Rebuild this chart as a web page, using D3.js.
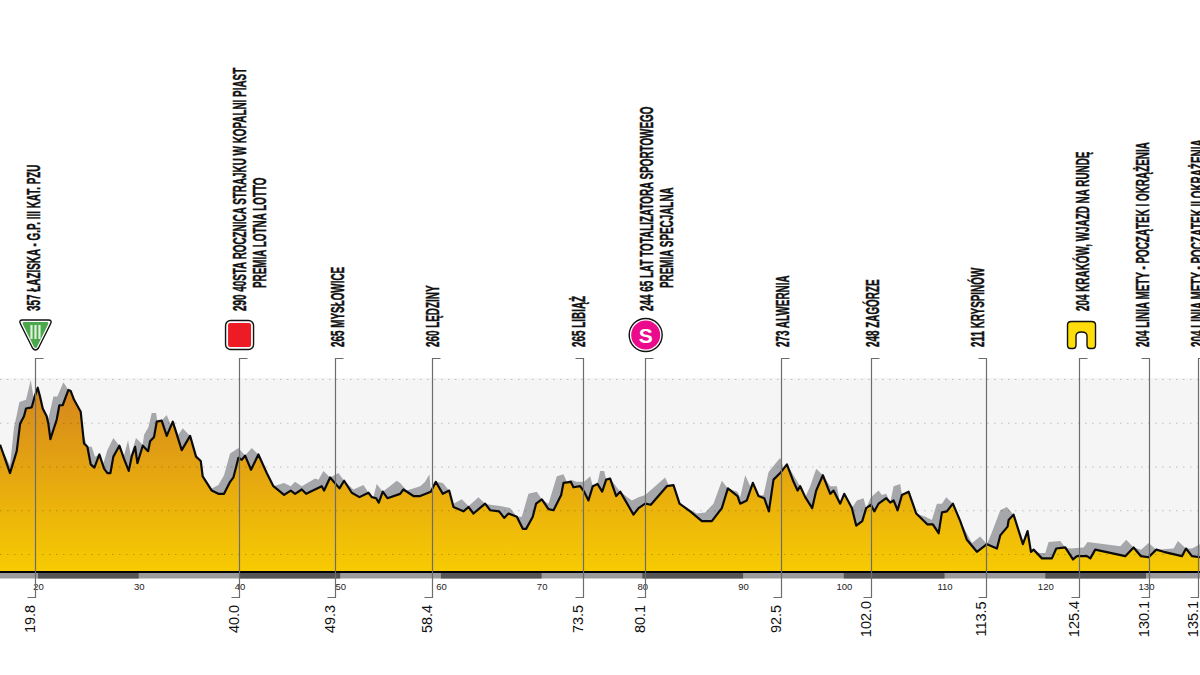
<!DOCTYPE html>
<html>
<head>
<meta charset="utf-8">
<script src="https://cdn.jsdelivr.net/npm/d3@7"></script>
<style>
  html, body { margin: 0; padding: 0; background: #fff; }
  svg { display: block; }
  text { font-family: "Liberation Sans Narrow", "Liberation Sans", sans-serif; }
  .name { stroke: #111; stroke-width: 0.45; }
</style>
</head>
<body>
<svg id="chart" width="1200" height="675"></svg>
<script>
// road profile, km along the axis and elevation in metres
const profileKm = [16.23,16.73,17.22,17.89,18.22,18.61,18.81,19.37,19.71,19.97,20.20,20.47,20.86,21.03,21.23,21.86,22.12,22.45,23.02,23.25,23.58,24.24,24.57,24.90,25.23,25.60,26.09,26.56,26.89,27.19,27.48,28.08,28.54,29.01,29.30,29.64,29.87,30.40,30.93,31.13,31.52,31.79,32.28,32.78,33.38,34.27,35.10,35.69,36.16,36.35,37.25,37.91,38.47,39.07,39.40,39.90,40.23,40.56,41.15,41.88,42.71,43.37,44.43,45.09,45.52,46.19,46.62,48.17,48.40,49.00,49.93,50.39,51.15,51.91,52.81,53.14,53.57,53.83,54.23,54.69,55.95,
  56.28,57.27,57.94,59.00,59.49,60.19,60.82,61.25,62.24,62.74,63.23,64.39,64.89,65.78,66.28,66.71,67.54,68.13,68.46,69.12,69.45,70.02,70.68,71.18,71.94,72.17,72.90,73.16,73.82,74.22,74.65,75.08,75.55,76.01,76.41,76.80,77.40,77.80,79.12,79.62,80.28,80.84,82.43,83.09,83.69,84.75,85.91,86.90,87.89,88.49,89.45,89.71,90.37,90.97,91.53,92.10,92.56,93.02,93.68,94.35,95.01,95.41,95.67,
  96.17,96.86,97.26,97.92,98.65,98.98,99.64,100.04,100.80,101.23,101.83,102.22,102.69,103.02,103.45,104.21,104.61,104.94,105.34,105.77,106.43,107.19,108.31,108.84,109.41,109.74,110.23,110.83,111.56,112.22,113.21,114.21,115.20,115.53,116.26,116.36,116.85,117.78,118.24,118.58,118.84,119.67,120.66,121.09,121.98,122.75,123.14,124.14,124.47,124.96,127.94,128.77,129.50,130.26,131.02,131.75,133.57,133.97,134.56,135.39,136.00];
const profileElev = [300,287,274,294,319,326,333,334,345,352,344,333,326,319,305,323,336,336,350,349,341,330,301,298,282,279,291,278,274,274,289,299,287,276,289,298,283,299,294,303,307,321,322,308,321,295,308,289,285,271,258,255,255,266,270,288,286,290,277,291,274,262,254,258,255,259,255,262,258,270,260,267,256,252,256,252,251,247,257,251,255,
  259,253,253,257,266,255,258,243,239,243,237,246,240,239,233,237,234,223,223,234,246,250,241,240,254,265,266,261,262,257,249,262,264,257,268,269,253,257,236,242,246,245,262,263,246,239,230,230,242,260,253,246,249,265,253,251,239,268,274,282,266,258,262,
  252,242,258,272,255,258,246,255,242,226,230,242,245,239,246,251,247,249,240,254,257,237,227,227,219,238,239,246,230,213,202,209,205,217,225,231,236,209,221,202,204,196,196,205,206,195,198,198,196,204,198,206,198,197,204,202,198,205,198,197,197];

// grey relief behind the road profile
const reliefKm = [16.23,17.22,17.62,17.89,18.15,18.81,19.28,19.54,19.97,20.47,21.03,21.53,21.92,22.52,23.02,24.90,25.33,25.66,26.09,26.49,26.89,27.48,28.08,28.54,28.94,29.21,29.73,30.40,30.53,30.96,31.29,31.72,31.85,32.28,32.78,33.18,33.38,33.94,34.37,35.10,36.35,37.25,37.91,38.47,39.07,39.90,40.56,41.22,41.88,43.37,44.43,45.09,45.52,46.19,47.51,47.84,48.34,49.00,49.83,50.39,51.32,52.31,52.81,53.30,53.63,54.23,55.62,55.95,
  56.61,57.94,58.43,58.86,59.00,59.49,60.19,60.82,61.25,62.07,62.74,63.73,64.39,64.89,65.88,66.87,67.54,68.03,68.69,69.52,70.02,70.68,71.51,72.17,72.50,72.90,73.49,74.22,74.82,75.08,75.55,75.81,76.21,76.41,76.80,77.80,78.95,79.62,80.28,82.26,82.60,83.09,83.69,85.41,86.24,87.06,87.89,88.49,89.45,89.71,90.21,90.71,90.97,91.53,92.03,92.53,93.68,94.02,94.35,95.67,
  96.17,96.66,97.26,97.92,98.65,99.31,99.64,100.04,100.80,101.30,101.96,102.22,102.69,103.45,103.78,104.21,104.61,104.94,105.60,105.77,106.43,107.19,108.08,108.74,109.24,109.74,110.17,110.83,111.56,112.72,113.54,114.21,114.70,115.53,116.19,116.85,117.78,118.24,118.58,119.50,120.00,120.33,121.49,121.98,122.48,123.81,124.20,127.45,128.04,128.77,129.50,130.26,131.02,132.74,133.17,133.97,134.56,135.39,136.00];
const reliefElev = [300,281,316,327,339,341,359,344,352,333,324,344,344,357,350,298,298,289,291,283,295,306,299,290,304,290,306,300,309,316,329,329,321,322,327,318,321,309,315,308,271,260,263,272,292,297,290,297,291,262,265,262,266,262,269,268,276,270,274,267,259,263,256,252,264,257,267,265,
  258,262,266,273,257,266,265,258,246,250,244,252,246,245,244,242,234,234,255,257,250,246,271,273,266,268,266,266,271,262,265,276,276,268,269,257,249,252,254,270,263,263,246,237,238,246,267,260,257,252,272,262,265,253,254,275,288,278,282,262,
  252,262,278,272,262,262,246,255,242,249,251,242,252,258,254,255,247,262,264,254,257,237,234,231,246,246,252,246,230,210,216,209,220,240,243,236,209,221,202,201,201,211,212,206,205,206,211,207,213,206,204,210,204,205,212,205,205,209,209];

// km printed under each marker, and where the marker stands on the km axis
const markerLabels = ["19.8","40.0","49.3","58.4","73.5","80.1","92.5","102.0","113.5","125.4","130.1","135.1"];
const markerKm = [19.70,39.96,49.49,59.10,74.12,80.28,93.78,102.69,114.14,123.35,130.33,135.19];
const markerNames = [
  "357 ŁAZISKA - G.P. III KAT. PZU",
  "290 40STA ROCZNICA STRAJKU W KOPALNI PIAST",
  "265 MYSŁOWICE",
  "260 LĘDZINY",
  "265 LIBIĄŻ",
  "244 65 LAT TOTALIZATORA SPORTOWEGO",
  "273 ALWERNIA",
  "248 ZAGÓRZE",
  "211 KRYSPINÓW",
  "204 KRAKÓW, WJAZD NA RUNDĘ",
  "204 LINIA METY - POCZĄTEK I OKRĄŻENIA",
  "204 LINIA METY - POCZĄTEK II OKRĄŻENIA"
];
const markerNotes = ["", "PREMIA LOTNA LOTTO", "", "", "", "PREMIA SPECJALNA", "", "", "", "", "", ""];
const markerIcons = ["climb", "sprint", "", "", "", "special", "", "", "", "lap", "", ""];

const kmTicks = [20,30,40,50,60,70,80,90,100,110,120,130];
const gridElev = [200,240,280,320,360];

const baseY = 572;
const svg = d3.select("#chart");

const x = d3.scaleLinear().domain([20, 130]).range([38, 1146]);
const y = d3.scaleLinear().domain([200, 360]).range([554, 379]);

const defs = svg.append("defs");
const grad = defs.append("linearGradient")
  .attr("id", "roadFill")
  .attr("gradientUnits", "userSpaceOnUse")
  .attr("x1", 0).attr("x2", 0)
  .attr("y1", y(352)).attr("y2", baseY);
grad.append("stop").attr("offset", 0).attr("stop-color", "#d5861d");
grad.append("stop").attr("offset", 1).attr("stop-color", "#f7cb02");

// light panel behind the profile
svg.append("rect")
  .attr("x", 0).attr("y", 378)
  .attr("width", 1200).attr("height", baseY - 378)
  .attr("fill", "#f5f5f5");

// Add relief and road
const area = (xs, ys) => d3.area()
  .x((d, i) => x(xs[i]))
  .y0(baseY)
  .y1((d, i) => y(ys[i]));

svg.append("path")
  .attr("d", area(reliefKm, reliefElev)(reliefKm))
  .attr("fill", "#a6a7aa");

svg.append("path")
  .attr("d", area(profileKm, profileElev)(profileKm))
  .attr("fill", "url(#roadFill)");

// Add dotted grid
const gridAxis = svg.append("g")
  .call(d3.axisLeft(y).tickValues(gridElev).tickSize(-1200).tickFormat(""));
gridAxis.select(".domain").remove();
gridAxis.selectAll("line")
  .attr("stroke", "#000")
  .attr("stroke-opacity", 0.22)
  .attr("stroke-dasharray", "1.5 5.5");

svg.append("path")
  .attr("d", d3.line().x((d, i) => x(profileKm[i])).y((d, i) => y(profileElev[i]))(profileKm))
  .attr("fill", "none")
  .attr("stroke", "#0b0b0b")
  .attr("stroke-width", 2.2)
  .attr("stroke-linejoin", "round");

// km band under the baseline
svg.append("rect")
  .attr("x", 0).attr("y", baseY)
  .attr("width", 1200).attr("height", 6.5)
  .attr("fill", "#9b9b9d");

svg.selectAll("rect.band")
  .data(kmTicks.filter((d, i) => i % 2 === 0))
  .enter()
  .append("rect")
  .attr("class", "band")
  .attr("x", d => x(d))
  .attr("y", baseY)
  .attr("width", d => x(d + 10) - x(d))
  .attr("height", 6.5)
  .attr("fill", "#555557");

svg.append("line")
  .attr("x1", 0).attr("x2", 1200)
  .attr("y1", baseY).attr("y2", baseY)
  .attr("stroke", "#000")
  .attr("stroke-width", 2);

// Add km axis
const kmAxis = svg.append("g")
  .attr("transform", "translate(0,583)")
  .call(d3.axisBottom(x).tickValues(kmTicks).tickSize(0).tickPadding(0));
kmAxis.select(".domain").remove();
kmAxis.selectAll("text")
  .attr("font-family", "'Liberation Sans Narrow', sans-serif")
  .attr("font-size", 9.5)
  .attr("fill", "#222");

// Add markers
const markers = svg.append("g");
const topLeft = ["73.5", "113.5", "130.1"];

markerKm.forEach((km, i) => {
  const mx = Math.round(x(km)) + 0.5;
  const side = topLeft.includes(markerLabels[i]) ? -8 : 8;
  markers.append("path")
    .attr("d", `M${mx + side},358.5H${mx}V597.5H${mx - 8}`)
    .attr("fill", "none")
    .attr("stroke", "#6d6d6d")
    .attr("stroke-width", 1.2);

  markers.append("text")
    .attr("transform", `translate(${mx},619) rotate(-90)`)
    .attr("text-anchor", "middle")
    .attr("font-size", 14.5)
    .attr("fill", "#111")
    .attr("dy", -0.5)
    .text(markerLabels[i]);
});

// name labels stand a little off their marker line
const nameShift = [5, 6.6, 9, 7, 2, 7.7, 8, 8, -2, 10, 0, 6];
const nameScale = 0.565;

markerNames.forEach((name, i) => {
  const mx = x(markerKm[i]);
  const bottom = markerIcons[i] ? 311 : 347;
  markers.append("text")
    .attr("class", "name")
    .attr("transform", `translate(${mx + nameShift[i]},${bottom}) rotate(-90) scale(${nameScale},1)`)
    .attr("font-size", 17.5)
    .attr("font-weight", "bold")
    .attr("fill", "#111")
    .text(name);
  if (markerNotes[i]) {
    markers.append("text")
      .attr("class", "name")
      .attr("transform", `translate(${mx + nameShift[i] + 20},288) rotate(-90) scale(${nameScale},1)`)
      .attr("font-size", 17.5)
      .attr("font-weight", "bold")
      .attr("fill", "#111")
      .text(markerNotes[i]);
  }
});

// Add the four category icons
const drawIcon = {
  climb(g) {
    g.append("path").attr("d", "M-13,-15H13Q17,-15 15,-11L3,13Q0,17 -3,13L-15,-11Q-17,-15 -13,-15Z")
      .attr("fill", "#fff").attr("stroke", "#111").attr("stroke-width", 1.4);
    g.append("path").attr("d", "M-11.5,-13H11.5Q13.5,-13 12.5,-10.5L1.5,12Q0,14 -1.5,12L-12.5,-10.5Q-13.5,-13 -11.5,-13Z")
      .attr("fill", "#4aa74a");
    [-4, 0, 4].forEach(d => {
      g.append("rect").attr("x", d - 1.1).attr("y", -10).attr("width", 2.2).attr("height", 14).attr("fill", "#dff0dc");
    });
  },
  sprint(g) {
    g.append("rect").attr("x", -14).attr("y", -14.5).attr("width", 28).attr("height", 29).attr("rx", 5)
      .attr("fill", "#fff").attr("stroke", "#111").attr("stroke-width", 1.4);
    g.append("rect").attr("x", -11.5).attr("y", -12).attr("width", 23).attr("height", 24).attr("rx", 2)
      .attr("fill", "#ed1c24");
  },
  special(g) {
    g.append("circle").attr("r", 16.5).attr("fill", "#fff").attr("stroke", "#111").attr("stroke-width", 1.4);
    g.append("circle").attr("r", 14.5).attr("fill", "#ec0a8c");
    g.append("text").attr("text-anchor", "middle").attr("y", 7.5)
      .attr("font-family", "'Liberation Sans', sans-serif")
      .attr("font-size", 21).attr("font-weight", "bold").attr("fill", "#fff").text("S");
  },
  lap(g) {
    g.append("path")
      .attr("d", "M-14,-10Q-14,-13.5 -10,-13.5H10Q14,-13.5 14,-10V10Q14,13.5 11,13.5H8.5Q5.5,13.5 5.5,10V1Q5.5,-3 0,-3Q-5.5,-3 -5.5,1V10Q-5.5,13.5 -8.5,13.5H-11Q-14,13.5 -14,10Z")
      .attr("fill", "#fedd0a").attr("stroke", "#111").attr("stroke-width", 1.4);
  }
};

markerIcons.forEach((icon, i) => {
  if (!icon) return;
  const g = markers.append("g")
    .attr("transform", `translate(${x(markerKm[i]) + (icon === "lap" ? 2.5 : 0.5)},335)`);
  drawIcon[icon](g);
});
</script>
</body>
</html>
